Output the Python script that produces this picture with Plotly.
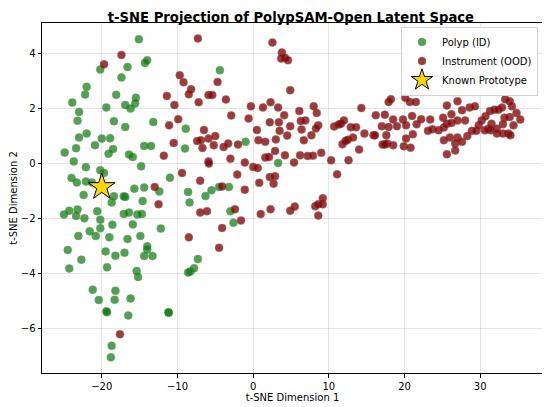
import plotly.graph_objects as go

# values (t-SNE coordinates)
polyp_x = [-15.1, -14.0, -14.3, -20.2, -16.6, -17.4, -22.0, -22.2, -18.1, -15.5,
           -23.9, -16.9, -15.6, -16.2, -19.4, -23.0, -23.2, -18.4, -16.9, -13.2,
           -22.0, -23.0, -20.0, -18.9, -20.9, -23.4, -18.5, -24.9, -19.1, -14.4,
           -13.5, -16.4, -15.9, -23.7, -14.8, -22.1, -20.2, -19.7, -8.9, -9.0,
           -11.0, -24.0, -23.3, -22.1, -21.3, -15.7, -14.4,
           -22.4, -18.4, -17.1, -16.9, -18.7, -12.4, -14.6, -8.6, -8.4, -6.3,
           -25.0, -24.3, -23.4, -23.2, -22.3, -20.6, -20.2, -17.1, -16.4, -15.3,
           -14.7, -18.6, -15.9, -20.2, -21.6, -23.1, -20.8, -19.0, -16.6, -14.9,
           -12.2, -24.5, -22.7, -19.5, -18.2, -17.0, -14.0, -14.0, -14.4, -13.3,
           -24.3, -19.3, -15.4, -15.2, -7.3, -7.8, -8.3, -8.6, -21.2, -18.2,
           -20.4, -18.3, -16.2, -19.4, -19.3, -16.5, -11.2, -11.15, -18.7, -18.8,
           -4.4, -1.0, 3.3, -5.5, -4.5, -3.2, -3.0, -2.6]
polyp_y = [4.52, 3.76, 3.66, 3.42, 3.51, 3.13, 2.79, 2.51, 2.50, 2.39,
           2.22, 2.13, 2.18, 2.00, 2.04, 1.88, 1.56, 1.54, 1.33, 1.51,
           1.09, 0.95, 0.91, 0.92, 0.67, 0.56, 0.53, 0.40, 0.36, 0.64,
           0.64, 0.33, 0.24, 0.08, -0.10, -0.13, -0.24, -0.34, 1.27, 0.55,
           -0.51, -0.52, -0.69, -0.65, -0.69, -0.91, -0.87,
           -1.14, -1.19, -1.19, -1.21, -1.41, -1.01, -1.36, -1.03, -1.41, -1.18,
           -1.85, -1.71, -1.90, -1.67, -1.99, -1.73, -2.04, -1.83, -1.78, -1.85,
           -1.83, -2.22, -2.21, -2.35, -2.46, -2.63, -2.63, -2.68, -2.74, -2.63,
           -2.36, -3.14, -3.49, -3.19, -3.35, -3.24, -3.00, -3.12, -3.36, -3.36,
           -3.81, -3.77, -3.90, -4.12, -3.47, -3.80, -3.92, -3.96, -4.58, -4.62,
           -4.96, -4.95, -4.90, -5.37, -5.40, -5.52, -5.40, -5.42, -6.62, -7.04,
           3.39, 0.79, 0.02, -0.97, -0.85, -0.85, -1.73, -2.15]

instr_x = [-7.3, -17.4, -19.7, -9.7, -9.2, -8.2, -8.5, -5.9, -11.4, -7.2,
           -10.4, -9.9, -11.1, -6.5, -7.4, -6.9, -5.9, -10.5, -6.7, -11.8,
           -5.9, -5.85, -9.4, -7.0, -13.0,
           -12.5, -7.0, -6.1, -8.5, -17.6,
           -4.7, -5.4, -3.6, 2.55, 3.8, 3.7, 4.2, 4.6, 4.9, 2.3,
           -0.3, 1.3, 3.3, -2.9, -0.6, 4.1, 6.1, 8.0, 8.4, 14.3,
           2.2, 3.4, 6.3, 6.9, 8.6, 8.3, 4.9, 0.5, 3.5, 6.4,
           10.7, 11.3, 11.6, 12.0, 12.9, 13.6, 14.7, 15.9, -5.0, -5.2,
           -3.9, -3.3, -2.0, 0.7, 1.6, 3.0, 4.5, 6.7, 7.7, 11.8,
           12.2, 12.5, 13.2, 14.0, 2.9, 4.2, 1.6, 2.1, 6.2, 7.2,
           7.9, 9.0, 10.3, 12.6, -3.0, -1.1, 5.4, 0.0, 0.6, -2.1,
           11.1, 2.2, 2.9, 0.8, 2.7, -1.1, -4.1,
           -2.4, -1.6, -4.1, -4.5, 1.0, 2.3, 4.9, 5.5, 8.2, 8.6,
           9.2, 9.2, 8.6,
           16.2, 17.4, 17.9, 18.2, 17.0, 17.9, 18.5, 19.0, 19.8, 20.1,
           20.7, 21.5, 21.0, 20.2, 21.6, 22.2, 16.1, 17.6, 21.1, 20.2,
           17.7, 17.1, 17.4, 18.5, 19.9, 20.8, 23.4, 23.1, 23.7, 24.5,
           25.1, 25.6, 26.2, 27.0, 27.6, 28.0, 28.6, 29.3, 25.6, 26.2,
           27.0, 25.2, 26.0, 27.0, 25.2, 26.7, 27.6, 28.3, 28.9, 29.5,
           29.8, 30.2, 30.7, 31.3, 31.9, 32.4, 32.9, 33.3, 33.9, 34.2,
           34.8, 35.3, 33.9, 33.2, 34.4, 33.0, 31.5, 32.2, 31.4, 32.2,
           33.0, 33.7, 34.0, 31.1, 30.6, 25.6, 26.7]
instr_y = [4.55, 3.95, 3.61, 3.21, 2.96, 2.70, 2.52, 2.49, 2.46, 2.23,
           2.13, 1.61, 1.39, 1.22, 0.82, 0.85, 0.91, 0.75, 0.57, 0.29,
           0.08, 0.00, -0.34, -0.62, -0.85,
           -1.48, -1.78, -1.73, -2.68, -6.20,
           2.97, 2.49, 2.33, 4.40, 4.04, 3.82, 3.85, 3.76, 2.67, 2.23,
           2.08, 2.04, 2.04, 1.75, 1.64, 1.76, 1.91, 2.08, 1.84, 2.02,
           1.50, 1.50, 1.55, 1.57, 1.39, 1.28, 1.36, 1.22, 1.19, 1.24,
           1.35, 1.42, 1.45, 1.57, 1.32, 1.32, 1.09, 1.03, 1.00, 0.67,
           0.60, 0.73, 0.69, 0.85, 0.79, 0.88, 1.02, 0.85, 1.03, 0.70,
           0.82, 0.87, 0.95, 0.51, 0.46, 0.30, 0.22, 0.24, 0.30, 0.28,
           0.29, 0.39, 0.12, 0.12, 0.18, 0.04, 0.04, -0.12, -0.16, -0.40,
           -0.39, -0.49, -0.46, -0.70, -0.73, -0.95, -0.83,
           -1.66, -2.07, -2.34, -3.06, -1.83, -1.66, -1.71, -1.56, -1.55, -1.48,
           -1.48, -1.26, -1.89,
           1.76, 1.78, 2.24, 2.34, 1.36, 1.33, 1.60, 1.36, 1.60, 2.39,
           2.24, 2.24, 1.73, 1.39, 1.43, 1.61, 1.03, 1.03, 1.07, 0.91,
           0.73, 0.69, 0.69, 0.67, 0.63, 0.58, 1.60, 1.19, 1.25, 1.21,
           1.67, 2.11, 1.79, 2.27, 1.94, 1.57, 2.04, 2.08, 1.45, 1.48,
           1.57, 1.31, 0.95, 0.95, 0.85, 0.73, 0.79, 1.00, 1.19, 1.19,
           1.39, 1.57, 1.72, 1.91, 1.96, 1.96, 2.04, 2.34, 2.27, 2.08,
           1.84, 1.60, 1.69, 1.67, 1.39, 1.43, 1.45, 1.27, 1.21, 1.09,
           1.09, 1.09, 1.03, 1.27, 1.21, 0.34, 0.48]

proto_x = [-20.0]
proto_y = [-0.85]

fig = go.Figure()

fig.add_trace(go.Scatter(
    x=polyp_x, y=polyp_y, mode='markers', name='Polyp (ID)',
    marker=dict(size=8, color='rgb(0,128,0)', opacity=0.7,
                line=dict(width=0.5, color='rgb(90,90,90)'))))

fig.add_trace(go.Scatter(
    x=instr_x, y=instr_y, mode='markers', name='Instrument (OOD)',
    marker=dict(size=8, color='rgb(139,0,0)', opacity=0.78,
                line=dict(width=0.5, color='rgb(90,90,90)'))))

fig.add_trace(go.Scatter(
    x=proto_x, y=proto_y, mode='markers', name='Known Prototype',
    marker=dict(size=20, symbol='star', color='gold',
                line=dict(width=1, color='black'))))

axis_style = dict(showline=True, linecolor='black', linewidth=1, mirror=True,
                  ticks='outside', ticklen=3.5, tickcolor='black',
                  showgrid=True, gridcolor='rgba(0,0,0,0.1)', gridwidth=0.8,
                  zeroline=False, automargin=False,
                  tickfont=dict(size=10, color='black'))

fig.update_xaxes(range=[-27.9, 38.3], dtick=10,
                 title=dict(text='t-SNE Dimension 1', font=dict(size=10, color='black'),
                            standoff=2),
                 **axis_style)
fig.update_yaxes(range=[-7.61, 5.11], dtick=2,
                 title=dict(text='t-SNE Dimension 2', font=dict(size=10, color='black'),
                            standoff=4),
                 **axis_style)

# the page body adds an 8px margin, so the figure is 8px smaller each way
fig.update_layout(
    width=542, height=399,
    margin=dict(l=34, r=7, t=15, b=34),
    paper_bgcolor='white', plot_bgcolor='white',
    font=dict(family='DejaVu Sans', color='black'),
    title=dict(text='<b>t-SNE Projection of PolypSAM-Open Latent Space</b>',
               x=0.522, xanchor='center', y=0.9775, yanchor='middle',
               font=dict(size=13.2, color='black')),
    legend=dict(x=0.99, y=0.99, xanchor='right', yanchor='top',
                bgcolor='rgba(255,255,255,0.85)', bordercolor='rgb(210,210,210)',
                borderwidth=1, font=dict(size=10), itemsizing='trace',
                tracegroupgap=0),
    showlegend=True,
)

fig.write_html("out.html")
